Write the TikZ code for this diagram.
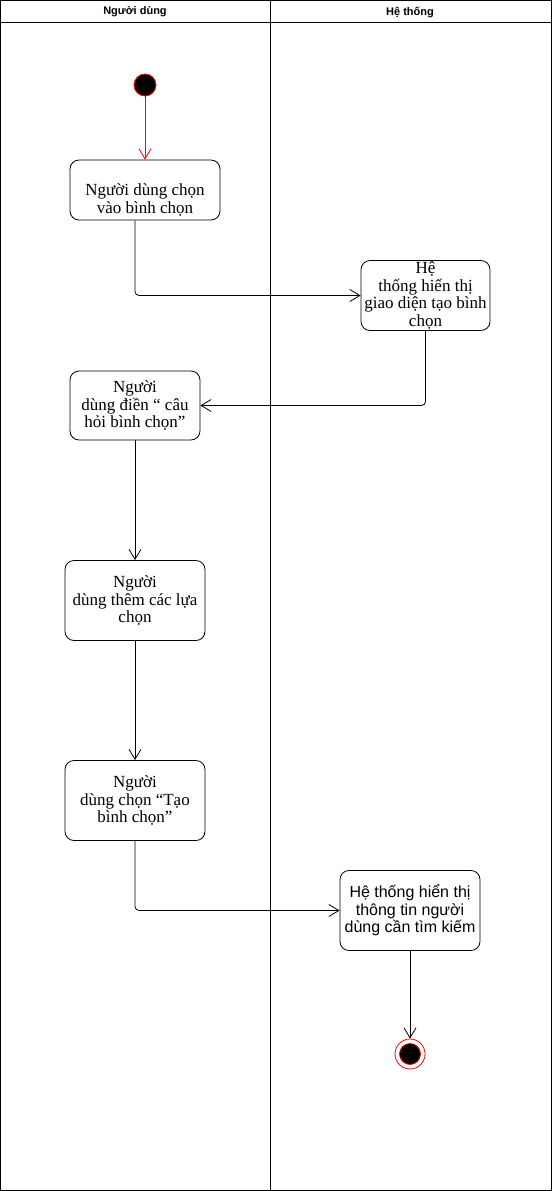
\documentclass[tikz,border=0pt]{standalone}
\usepackage{fontspec}
\setmainfont{Liberation Serif}
\newfontfamily\arialfont{Liberation Sans}
\usetikzlibrary{arrows.meta}
\begin{document}
\begin{tikzpicture}[x=1pt,y=-1pt,
  lane/.style={draw, line width=0.8pt},
  hdr/.style={font=\arialfont\bfseries\fontsize{11}{13}\selectfont},
  act/.style={draw, line width=0.8pt, rounded corners=9pt, align=center, inner sep=0pt,
    font=\fontsize{17}{17.6}\selectfont},
  acttext/.style={align=center, inner sep=0pt, font=\fontsize{17}{17.6}\selectfont},
  flow/.style={draw, line width=0.8pt, rounded corners=4pt,
    -{Straight Barb[length=10pt,width=12pt,line width=0.8pt]}},
]
\useasboundingbox (0,0) rectangle (552,1191);
% swimlane frame
\draw[lane] (0.5,0.5) rectangle (551.5,1190.5);
\draw[lane] (0.5,22.5) -- (551.5,22.5);
\draw[lane] (270.5,0.5) -- (270.5,1190.5);
\node[hdr] (h1) at (135,12) {Người dùng};
\node[hdr] (h2) at (410,12) {Hệ thống};

% initial and final states
\node[circle, draw=red, fill=black, line width=0.8pt, minimum size=22pt, inner sep=0pt] (start) at (145,85) {};
\node[circle, draw=red, line width=0.8pt, minimum size=30pt, inner sep=0pt] (stop) at (410,1054) {};
\node[circle, draw=red, fill=black, line width=0.8pt, minimum size=21pt, inner sep=0pt] (stopdot) at (stop) {};

% activities
\node[act, minimum width=150pt, minimum height=60pt] (a1) at (145,190) {};
\node[acttext] (t1) at (145,200) {Người dùng chọn\\vào bình chọn};
\node[act, minimum width=129pt, minimum height=70pt] (a2) at (425.5,295.5) {Hệ\\thống hiển thị\\giao diện tạo bình\\chọn};
\node[act, minimum width=130pt, minimum height=69pt] (a3) at (135,405.5) {Người\\dùng điền “ câu\\hỏi bình chọn”};
\node[act, minimum width=140pt, minimum height=80pt] (a4) at (135,600.5) {Người\\dùng thêm các lựa\\chọn};
\node[act, minimum width=140pt, minimum height=80pt] (a5) at (135,800.5) {Người\\dùng chọn “Tạo\\bình chọn”};
\node[act, minimum width=140pt, minimum height=80pt, font=\arialfont\fontsize{16}{17.6}\selectfont] (a6) at (410,910.5) {Hệ thống hiển thị\\thông tin người\\dùng cần tìm kiếm};

% control flow
\draw[flow, red] (start) -- (a1.north);
\draw[flow] ([xshift=-10pt]a1.south) |- (a2.west);
\draw[flow] (a2.south) |- (a3.east);
\draw[flow] (a3.south) -- (a4.north);
\draw[flow] (a4.south) -- (a5.north);
\draw[flow] (a5.south) |- (a6.west);
\draw[flow] (a6.south) -- (stop.north);
\end{tikzpicture}
\end{document}
